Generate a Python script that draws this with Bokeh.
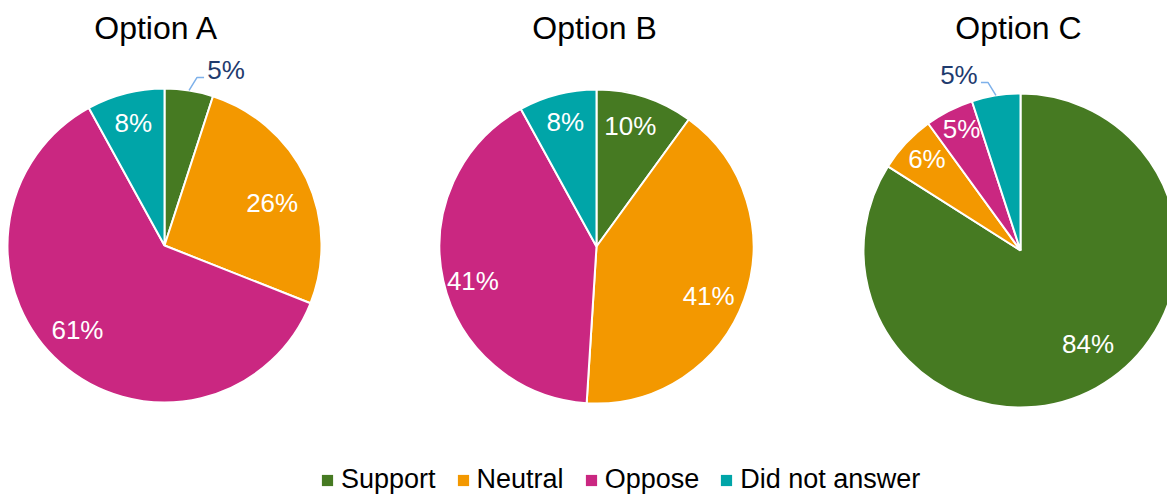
import numpy as np
from bokeh.plotting import figure
from bokeh.models import ColumnDataSource, Range1d, Legend, LegendItem
from bokeh.core.properties import value
from bokeh.embed import file_html
from bokeh.resources import INLINE

# ---------------- data ----------------
categories = ["Support", "Neutral", "Oppose", "Did not answer"]
options = ["Option A", "Option B", "Option C"]
option_a = [5, 26, 61, 8]
option_b = [10, 41, 41, 8]
option_c = [84, 6, 5, 5]

# ---------------- style / layout ----------------
colors = ["#467A22", "#F39800", "#CA2781", "#00A5A8"]
W, H = 1167, 496
FONT = "Liberation Sans"
centers = [(164, 245), (596, 246), (1020, 250)]   # pixel coords, y from top
title_x = [156, 594, 1018]
R = 157
label_r = 0.8
label_lift = 4
outside = [[True, False, False, False],
           [False, False, False, False],
           [False, False, False, True]]
# small screen-pixel nudges (dx right, dy down) for in-slice labels ("best fit")
label_nudge = [[(0, 0), (-6, 15), (-4, -6), (0, 3)],
               [(-5, 3), (-6, 11), (-1, 11), (0, 1)],
               [(7, -13), (-2, -2), (-2, -6), (0, 0)]]

p = figure(width=W, height=H, x_range=Range1d(0, W), y_range=Range1d(0, H),
           output_backend="svg", toolbar_location=None, min_border=0)
p.axis.visible = False
p.grid.visible = False
p.outline_line_color = None

series = [option_a, option_b, option_c]
swatch_renderer = None
for k, vals in enumerate(series):
    cx, cy_px = centers[k]
    cy = H - cy_px
    v = np.array(vals, dtype=float)
    frac = v / v.sum()
    cum_end = np.cumsum(frac)
    cum_start = cum_end - frac
    start = np.pi / 2 - 2 * np.pi * cum_end
    end = np.pi / 2 - 2 * np.pi * cum_start
    src = ColumnDataSource(dict(start=start, end=end, color=colors,
                                x=[cx] * 4, y=[cy] * 4))
    p.wedge(x="x", y="y", radius=R, start_angle="start", end_angle="end",
            direction="anticlock", fill_color="color", line_color="white",
            line_width=2, source=src)
    if swatch_renderer is None:
        # zero-radius twin used only for clean legend swatches
        swatch_renderer = p.wedge(x="x", y="y", radius=0, start_angle="start",
                                  end_angle="end", direction="anticlock",
                                  fill_color="color", line_color=None,
                                  source=src)

    mid = (cum_start + cum_end) * np.pi  # clockwise from top, radians
    in_x, in_y, in_t = [], [], []
    out_x, out_y, out_t = [], [], []
    lx, ly = [], []
    for i in range(4):
        txt = f"{vals[i]:.0f}%"
        s, c = np.sin(mid[i]), np.cos(mid[i])
        if outside[k][i]:
            sg = 1 if s >= 0 else -1
            x0, y0 = cx + R * s, cy + R * c
            x1, y1 = x0 + 8 * sg, y0 + 13
            x2, y2 = x1 + 7 * sg, y1
            lx.append([x0, x1, x2]); ly.append([y0, y1, y2])
            out_x.append(x2 + sg * 22); out_y.append(y2 + 7); out_t.append(txt)
        else:
            dx, dy = label_nudge[k][i]
            in_x.append(cx + label_r * R * s + dx)
            in_y.append(cy + label_r * R * c + label_lift - dy)
            in_t.append(txt)
    p.text(x=in_x, y=in_y, text=in_t, text_color="white",
           text_font=value(FONT), text_font_size="26px",
           text_align="center", text_baseline="middle")
    if out_t:
        p.multi_line(xs=lx, ys=ly, line_color="#7EB1EA", line_width=1.5)
        p.text(x=out_x, y=out_y, text=out_t, text_color="#1F3B6E",
               text_font=value(FONT), text_font_size="26px",
               text_align="center", text_baseline="middle")
    p.text(x=[title_x[k]], y=[H - 27], text=[options[k]], text_color="black",
           text_font=value(FONT), text_font_size="32px",
           text_align="center", text_baseline="middle")

items = [LegendItem(label=cat, renderers=[swatch_renderer], index=i)
         for i, cat in enumerate(categories)]
legend = Legend(items=items, orientation="horizontal", location=(320, 1),
                label_text_font=FONT, label_text_font_size="27px",
                label_text_color="black",
                glyph_width=14, glyph_height=14, label_standoff=7,
                spacing=20, padding=0, margin=0, border_line_color=None,
                background_fill_alpha=0)
p.add_layout(legend, "center")

open("out.html", "w").write(file_html(p, INLINE))
